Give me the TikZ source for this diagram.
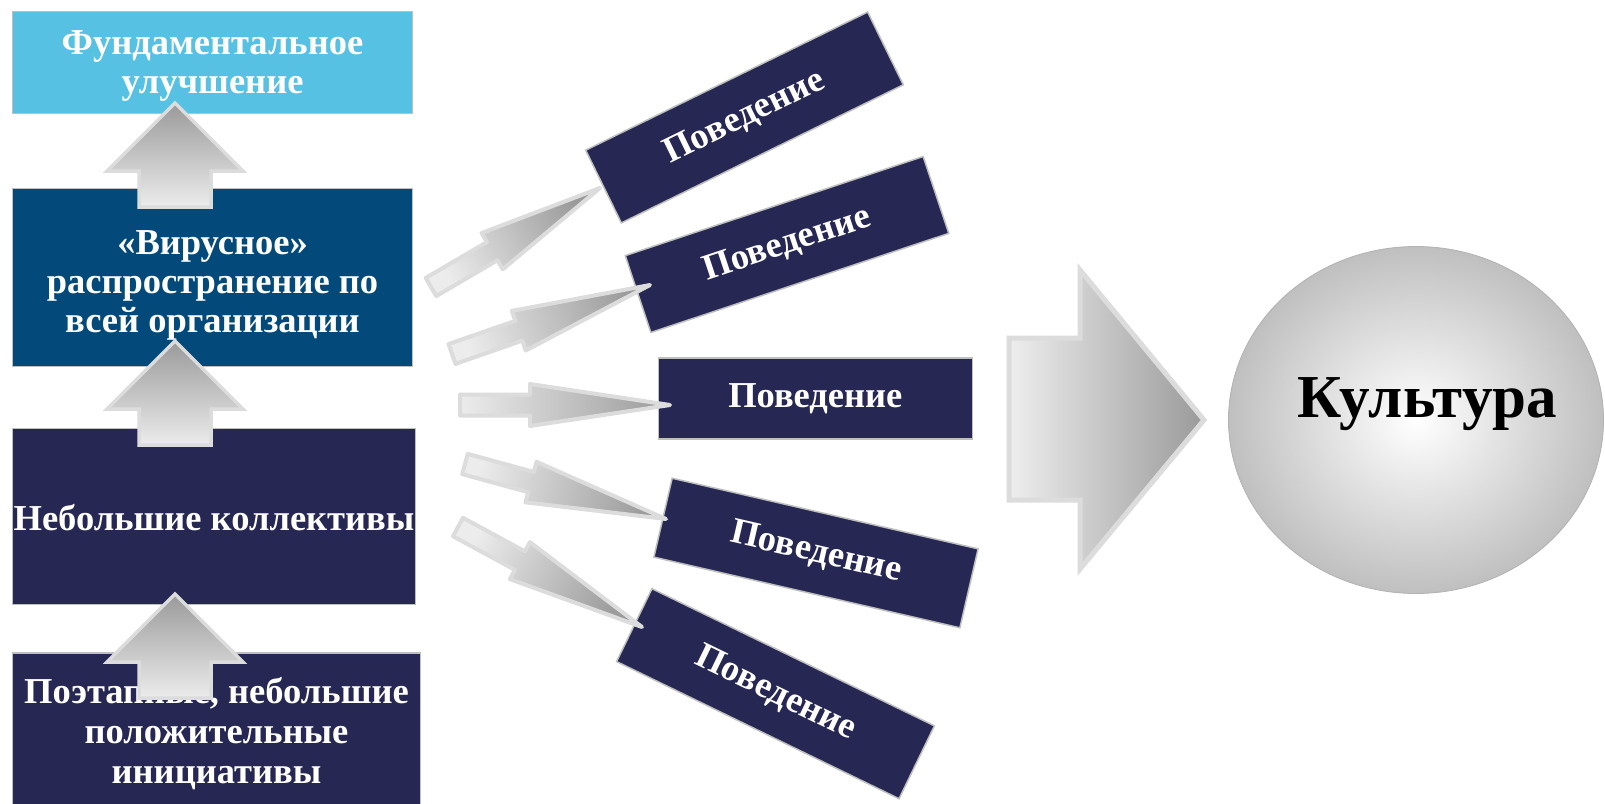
\documentclass[tikz,border=0pt]{standalone}
\usepackage{fontspec}
\setmainfont{Liberation Serif}
\usetikzlibrary{calc,shapes.geometric}
\definecolor{navy}{HTML}{262853}
\definecolor{vblue}{HTML}{034A7A}
\definecolor{sky}{HTML}{56C1E3}
\definecolor{boxedge}{HTML}{BFBFBF}
\definecolor{arredge}{HTML}{DCDCDC}
\definecolor{arrdark}{HTML}{9A9A9A}
\definecolor{arrlight}{HTML}{ECECEC}
\newcommand\dartarrow[4]{%
  \coordinate (hb) at ($(#2)!#3pt!(#1)$);
  \path[dart, shading angle=#4]
   ($(#1)!10.5pt!90:(#2)$) -- ($(hb)!10.5pt!90:(#2)$) -- ($(hb)!21pt!90:(#2)$) -- (#2)
   -- ($(hb)!21pt!-90:(#2)$) -- ($(hb)!10.5pt!-90:(#2)$) -- ($(#1)!10.5pt!-90:(#2)$) -- cycle;}
\begin{document}
\begin{tikzpicture}[x=1pt,y=-1pt,
  box/.style={draw=boxedge, line width=1.5pt, inner sep=0pt},
  boxtext/.style={text=white, align=center, font=\bfseries\fontsize{36.5}{39}\selectfont, inner sep=0pt},
  behbox/.style={box, fill=navy, minimum width=314pt, minimum height=81pt, text=white,
     font=\bfseries\fontsize{36.5}{39}\selectfont},
  uparr/.style={draw=arredge, line width=3.5pt, line join=miter, top color=arrdark, bottom color=arrlight},
  dart/.style={draw=arredge, line width=4pt, line join=round, top color=arrdark, bottom color=arrlight},
  bigarr/.style={draw=arredge, line width=5pt, line join=miter, left color=arrlight!90!white, right color=arrdark}]
\useasboundingbox (0,0) rectangle (1605,803);
\fill[white] (0,0) rectangle (1605,803);

% left column
\node[box, fill=sky, minimum width=400pt, minimum height=102pt] (fund) at (212.5,62.5) {};
\node[boxtext] (fundt) at (212.5,66) {Фундаментальное\\улучшение};
\node[box, fill=vblue, minimum width=400pt, minimum height=178pt] (virus) at (212.5,277.5) {};
\node[boxtext] (virust) at (212.5,285) {«Вирусное»\\распространение по\\всей организации};
\node[box, fill=navy, minimum width=403pt, minimum height=176pt] (teams) at (214,516.5) {};
\node[boxtext] (teamst) at (214,518) {Небольшие коллективы};
\node[box, fill=navy, minimum width=408pt, minimum height=170pt] (steps) at (216.5,738) {};
\node[boxtext, font=\bfseries\fontsize{36.5}{40}\selectfont] (stepst) at (216.5,734) {Поэтапные, небольшие\\положительные\\инициативы};

% up arrows
\coordinate (u1) at (175,103);
\coordinate (u2) at (175,341);
\coordinate (u3) at (175,594);
\foreach \u in {u1,u2,u3}{
  \path[uparr] (\u) -- ++(68,68) -- ++(-32,0) -- ++(0,36) -- ++(-72,0) -- ++(0,-36) -- ++(-32,0) -- cycle;
}

% behaviour boxes
\node[behbox, rotate=26.1]  (b1) at (744.5,117.5) {Поведение};
\node[behbox, rotate=18.4]  (b2) at (787,244.5) {Поведение};
\node[behbox]               (b3) at (815.3,398.3) {Поведение};
\node[behbox, rotate=-13]   (b4) at (816,553) {Поведение};
\node[behbox, rotate=-25.9] (b5) at (775.5,693.7) {Поведение};

% dart arrows
\coordinate (t1) at (431,287);  \coordinate (p1) at (600,188);
\coordinate (t2) at (452,354);  \coordinate (p2) at (650,285);
\coordinate (t3) at (460,405);  \coordinate (p3) at (670,405);
\coordinate (t4) at (465,464);  \coordinate (p4) at (666,519);
\coordinate (t5) at (458,527);  \coordinate (p5) at (642,627);
\dartarrow{t1}{p1}{125}{-59.5}
\dartarrow{t2}{p2}{139}{-70.8}
\dartarrow{t3}{p3}{140}{-90}
\dartarrow{t4}{p4}{140}{-105.2}
\dartarrow{t5}{p5}{139}{-118.5}

% big arrow
\path[bigarr] (1009,338) -- (1080,338) -- (1080,270) -- (1204,420) -- (1080,569) -- (1080,500) -- (1009,500) -- cycle;

% culture
\node[ellipse, draw=gray!60, line width=0.8pt, minimum width=375pt, minimum height=347pt,
      inner color=white, outer color=black!25] (cult) at (1416,420) {};
\node[anchor=base, font=\bfseries\fontsize{61}{61}\selectfont, inner sep=0pt] (cultt) at (1427,417) {Культура};
\end{tikzpicture}
\end{document}
